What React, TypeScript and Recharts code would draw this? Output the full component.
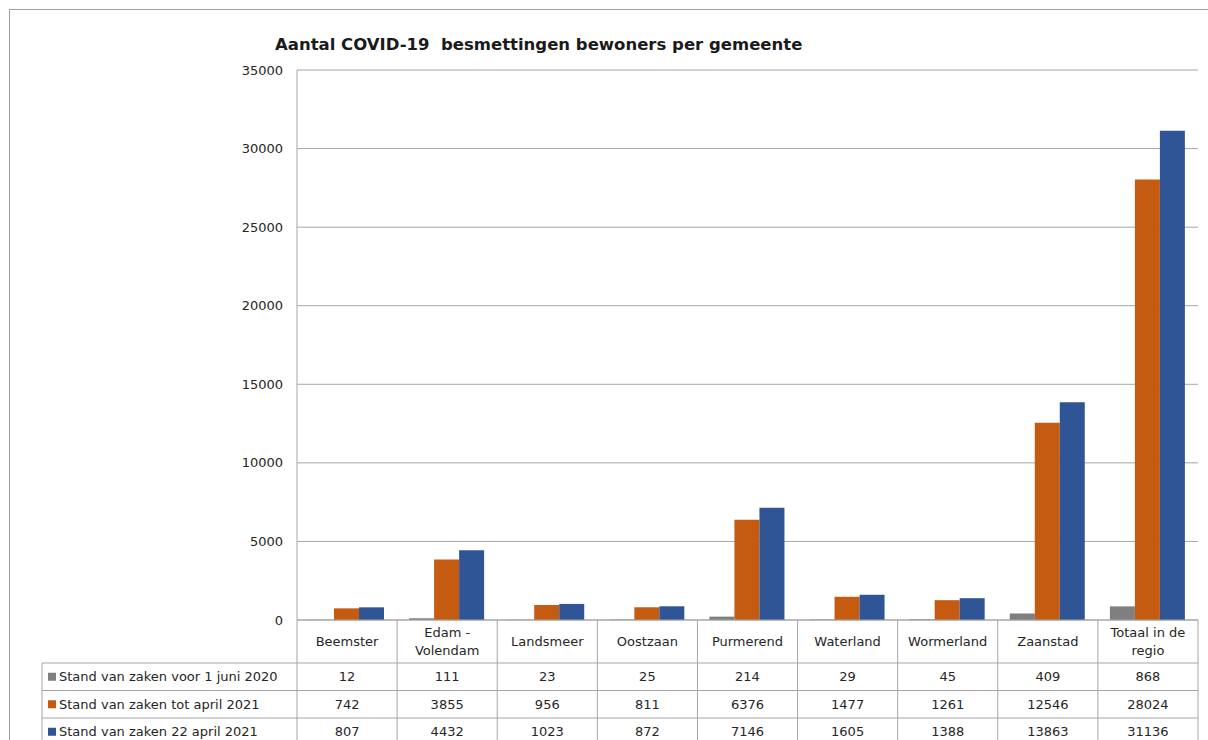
import React from 'react';
import { BarChart, Bar, XAxis, YAxis, CartesianGrid } from 'recharts';

const categories = ['Beemster', 'Edam - Volendam', 'Landsmeer', 'Oostzaan', 'Purmerend', 'Waterland', 'Wormerland', 'Zaanstad', 'Totaal in de regio'];
const voorJuni2020 = [12, 111, 23, 25, 214, 29, 45, 409, 868];
const totApril2021 = [742, 3855, 956, 811, 6376, 1477, 1261, 12546, 28024];
const april22_2021 = [807, 4432, 1023, 872, 7146, 1605, 1388, 13863, 31136];
const yTicks = [0, 5000, 10000, 15000, 20000, 25000, 30000, 35000];

const seriesList = [
  { key: 'a', name: 'Stand van zaken voor 1 juni 2020', color: '#7f7f7f', values: voorJuni2020 },
  { key: 'b', name: 'Stand van zaken tot april 2021', color: '#c55a11', values: totApril2021 },
  { key: 'c', name: 'Stand van zaken 22 april 2021', color: '#2f5597', values: april22_2021 },
];

const data = categories.map((name, i) => ({
  name,
  a: voorJuni2020[i],
  b: totApril2021[i],
  c: april22_2021[i],
}));

const FONT = '"DejaVu Sans", "Liberation Sans", sans-serif';
const BORDER = '#a6a6a6';
const TEXT = '#262626';
const HEADER_H = 43;
const ROW_H = 27.5;
const LEGEND_W = 255;

// greedy word wrap for header cells, Excel-like
function wrap(label: string, max = 12) {
  const words = label.split(' ');
  const lines: string[] = [];
  let cur = '';
  for (const w of words) {
    const next = cur ? cur + ' ' + w : w;
    if (next.length > max && cur) {
      lines.push(cur);
      cur = w;
    } else {
      cur = next;
    }
  }
  if (cur) lines.push(cur);
  return lines;
}

function TableTick(props: any) {
  const { x, y, payload } = props;
  const index = payload.index;
  const w = payload.offset ? payload.offset * 2 : 100;
  const left = x - w / 2;
  const right = x + w / 2;
  const lines = wrap(String(payload.value));
  const bottom = y + HEADER_H + ROW_H * 3;
  const lineH = 18;
  const startY = y + HEADER_H / 2 - ((lines.length - 1) * lineH) / 2;

  return (
    <g fontFamily={FONT} fontSize={13} fill={TEXT}>
      <line x1={right} y1={y} x2={right} y2={bottom} stroke={BORDER} />
      {index === 0 && <line x1={left} y1={y} x2={left} y2={bottom} stroke={BORDER} />}
      {lines.map((l, i) => (
        <text key={i} x={x} y={startY + i * lineH} textAnchor="middle" dominantBaseline="central">
          {l}
        </text>
      ))}
      {seriesList.map((s, r) => {
        const top = y + HEADER_H + r * ROW_H;
        return (
          <g key={s.key}>
            <line x1={left} y1={top} x2={right} y2={top} stroke={BORDER} />
            <text x={x} y={top + ROW_H / 2} textAnchor="middle" dominantBaseline="central">
              {s.values[index]}
            </text>
          </g>
        );
      })}
      {index === 0 && (
        <g>
          <line x1={left - LEGEND_W} y1={y + HEADER_H} x2={left - LEGEND_W} y2={bottom} stroke={BORDER} />
          {seriesList.map((s, r) => {
            const top = y + HEADER_H + r * ROW_H;
            return (
              <g key={s.key}>
                <line x1={left - LEGEND_W} y1={top} x2={left} y2={top} stroke={BORDER} />
                <rect x={left - LEGEND_W + 6} y={top + ROW_H / 2 - 4} width={8} height={8} fill={s.color} />
                <text x={left - LEGEND_W + 17} y={top + ROW_H / 2} dominantBaseline="central">
                  {s.name}
                </text>
              </g>
            );
          })}
        </g>
      )}
    </g>
  );
}

export default function App() {
  return (
    <div style={{ position: 'absolute', left: 0, top: 0, width: 1208, height: 740, background: '#fff', overflow: 'hidden' }}>
      <div style={{ position: 'absolute', left: 9, top: 9, width: 1220, height: 760, border: '1px solid #a0a0a0', boxSizing: 'border-box' }} />
      <div
        style={{
          position: 'absolute',
          left: 275,
          top: 35,
          fontFamily: FONT,
          fontWeight: 'bold',
          fontSize: 16.5,
          color: '#1a1a1a',
          whiteSpace: 'pre',
        }}
      >
        Aantal COVID-19  besmettingen bewoners per gemeente
      </div>
      <BarChart
        width={1208}
        height={740}
        data={data}
        margin={{ top: 70, right: 10, left: 0, bottom: 0 }}
        barCategoryGap={12}
        barGap={0}
        style={{ position: 'absolute', left: 0, top: 0 }}
      >
        <CartesianGrid vertical={false} stroke={BORDER} />
        <XAxis
          dataKey="name"
          height={120}
          axisLine={{ stroke: BORDER }}
          tickLine={false}
          tickSize={0}
          tickMargin={0}
          interval={0}
          tick={<TableTick />}
        />
        <YAxis
          width={297}
          domain={[0, 35000]}
          ticks={yTicks}
          axisLine={{ stroke: BORDER }}
          tickLine={false}
          tickSize={0}
          tickMargin={14}
          tick={{ fontFamily: FONT, fontSize: 13, fill: TEXT }}
        />
        {seriesList.map((s) => (
          <Bar key={s.key} dataKey={s.key} name={s.name} fill={s.color} isAnimationActive={false} />
        ))}
      </BarChart>
    </div>
  );
}
